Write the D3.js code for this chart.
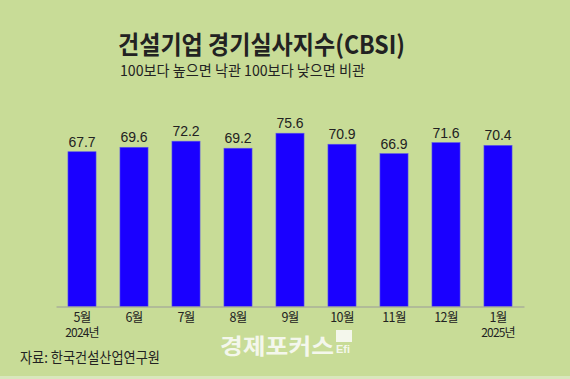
<html>
<head>
<meta charset="utf-8">
<title>건설기업 경기실사지수</title>
<script src="https://cdn.jsdelivr.net/npm/d3@7/dist/d3.min.js"></script>
<style>
  body { margin: 0; background: #c8dc97; }
  svg text { font-family: "Noto Sans CJK KR", "Noto Sans", sans-serif; fill: #222; }
</style>
</head>
<body>
<svg id="svg" width="570" height="379"></svg>
<script>
// data
var months = ["5월", "6월", "7월", "8월", "9월", "10월", "11월", "12월", "1월"];
var years = ["2024년", "", "", "", "", "", "", "", "2025년"];
var values = [67.7, 69.6, 72.2, 69.2, 75.6, 70.9, 66.9, 71.6, 70.4];

var W = 570, H = 379;
var base = 306.5;
var svg = d3.select("#svg");

svg.append("rect").attr("width", W).attr("height", H).attr("fill", "#c8dc97");
svg.append("rect").attr("y", 376).attr("width", W).attr("height", 3).attr("fill", "#d9e7bd");

// title
svg.append("text")
  .attr("x", 118).attr("y", 54)
  .attr("font-size", 25).attr("font-weight", "bold")
  .attr("textLength", 287).attr("lengthAdjust", "spacingAndGlyphs")
  .text("건설기업 경기실사지수(CBSI)");
svg.append("text")
  .attr("x", 120).attr("y", 76)
  .attr("font-size", 15)
  .attr("textLength", 245).attr("lengthAdjust", "spacingAndGlyphs")
  .text("100보다 높으면 낙관 100보다 낮으면 비관");

var x = d3.scaleBand().domain(months).range([56, 524])
  .paddingInner(0.46).paddingOuter(0.23);
var y = d3.scaleLinear().domain([0, 100]).range([310.5, 76]);

// bars
svg.append("g").selectAll("rect").data(values).enter()
  .append("rect")
  .attr("x", function(d, i) { return x(months[i]); })
  .attr("width", x.bandwidth())
  .attr("y", function(d) { return y(d); })
  .attr("height", function(d) { return base - y(d); })
  .attr("fill", "#1a00ff")
  .attr("stroke", "#5a55e8").attr("stroke-width", 0.6);

// value labels
svg.append("g").selectAll("text").data(values).enter()
  .append("text")
  .attr("x", function(d, i) { return x(months[i]) + x.bandwidth() / 2; })
  .attr("y", function(d) { return y(d) - 5; })
  .attr("text-anchor", "middle")
  .style("font-family", "'Liberation Sans', Arial, sans-serif")
  .attr("font-size", 14)
  .text(function(d) { return d.toFixed(1); });

// axis
var axis = svg.append("g").attr("transform", "translate(0," + base + ")")
  .call(d3.axisBottom(x).tickSize(0).tickPadding(0));
axis.select(".domain").attr("stroke", "#9a9a9a").attr("stroke-width", 1.2);
axis.selectAll(".tick text").remove();
axis.selectAll(".tick").each(function(d, i) {
  var g = d3.select(this);
  g.append("text")
    .attr("text-anchor", "middle").attr("x", 0).attr("y", 15.5)
    .attr("font-size", 12.5).attr("letter-spacing", -0.6)
    .text(d);
  if (years[i]) {
    g.append("text")
      .attr("text-anchor", "middle").attr("x", 0).attr("y", 30)
      .attr("font-size", 12).attr("letter-spacing", -0.8)
      .text(years[i]);
  }
});

// source
svg.append("text")
  .attr("x", 20).attr("y", 363)
  .attr("font-size", 15)
  .attr("textLength", 140).attr("lengthAdjust", "spacingAndGlyphs")
  .text("자료: 한국건설산업연구원");

// logo
svg.append("text")
  .attr("x", 220).attr("y", 354)
  .attr("font-size", 22).attr("font-weight", "bold")
  .attr("textLength", 114).attr("lengthAdjust", "spacingAndGlyphs")
  .style("fill", "#f4f7ec")
  .text("경제포커스");
svg.append("rect").attr("x", 336).attr("y", 330).attr("width", 16).attr("height", 12)
  .attr("fill", "#f4f7ec");
svg.append("text")
  .attr("x", 336).attr("y", 353)
  .attr("font-size", 11).attr("font-weight", "bold")
  .style("font-family", "'Liberation Sans', sans-serif")
  .style("fill", "#f4f7ec")
  .text("Efi");
</script>
</body>
</html>
